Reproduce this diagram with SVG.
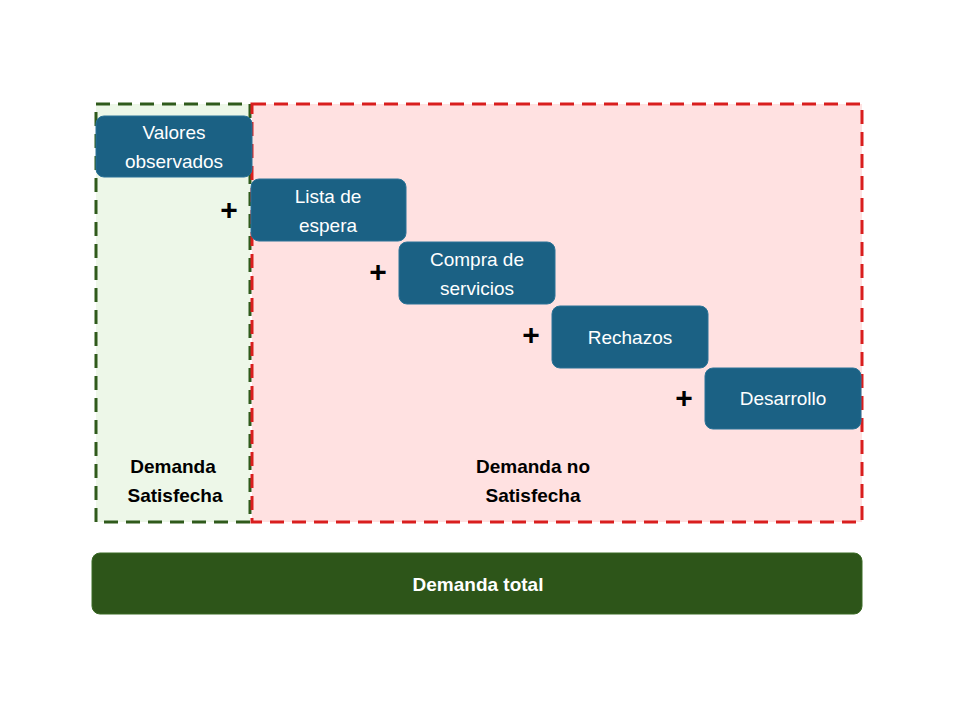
<svg xmlns="http://www.w3.org/2000/svg" width="960" height="720" viewBox="0 0 960 720">
<style>
.n{fill:#1b6184;stroke:#2a7397;stroke-width:1}
.t{font-family:"Liberation Sans",Arial,sans-serif;font-size:19px;fill:#fff;text-anchor:middle}
.b{font-family:"Liberation Sans",Arial,sans-serif;font-size:19px;font-weight:bold;fill:#000;text-anchor:middle}
.p{font-family:"Liberation Sans",Arial,sans-serif;font-size:30px;font-weight:bold;fill:#000;text-anchor:middle}
</style>
<rect width="960" height="720" fill="#fff"/>
<g id="satisfecha"><rect x="96" y="104" width="154" height="418" fill="#edf7e8" stroke="#2f5a1b" stroke-width="3" stroke-dasharray="14,8"/>
<text class="b" x="173" y="473">Demanda</text><text class="b" x="175" y="502">Satisfecha</text></g>
<g id="nosatisfecha"><rect x="252" y="104" width="610" height="418" fill="#ffe1e1" stroke="#d91e1e" stroke-width="3" stroke-dasharray="14,8"/>
<text class="b" x="533" y="473">Demanda no</text><text class="b" x="533" y="502">Satisfecha</text></g>
<g id="valores"><rect class="n" x="96" y="116" width="156" height="61" rx="8"/><text class="t" x="174" y="139">Valores</text><text class="t" x="174" y="168">observados</text></g>
<g id="lista"><rect class="n" x="251" y="179" width="155" height="62" rx="8"/><text class="t" x="328" y="203">Lista de</text><text class="t" x="328" y="232">espera</text></g>
<g id="compra"><rect class="n" x="399" y="242" width="156" height="62" rx="8"/><text class="t" x="477" y="266">Compra de</text><text class="t" x="477" y="295">servicios</text></g>
<g id="rechazos"><rect class="n" x="552" y="306" width="156" height="62" rx="8"/><text class="t" x="630" y="344">Rechazos</text></g>
<g id="desarrollo"><rect class="n" x="705" y="368" width="156" height="61" rx="8"/><text class="t" x="783" y="405">Desarrollo</text></g>
<g id="plus"><text class="p" x="229" y="220">+</text><text class="p" x="378" y="282">+</text><text class="p" x="531" y="345">+</text><text class="p" x="684" y="408">+</text></g>
<g id="total"><rect x="92" y="553" width="770" height="61" rx="8" fill="#2d5519" stroke="#3a6a24"/><text class="b" x="478" y="591" style="fill:#fff">Demanda total</text></g>
<g id="connectors"/>
</svg>
